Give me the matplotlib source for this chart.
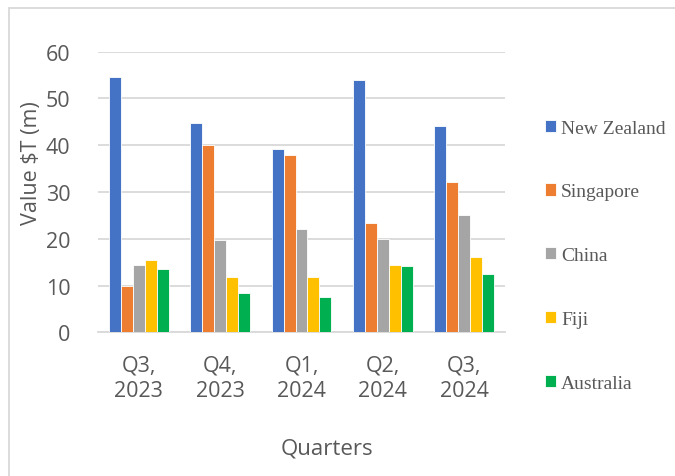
import numpy as np
import matplotlib
matplotlib.use('Agg')
import matplotlib.pyplot as plt
from matplotlib.patches import Rectangle

# data
quarters = ['Q3,\n2023', 'Q4,\n2023', 'Q1,\n2024', 'Q2,\n2024', 'Q3,\n2024']
countries = ['New Zealand', 'Singapore', 'China', 'Fiji', 'Australia']
new_zealand = [54.5, 44.8, 39.1, 53.9, 44.2]
singapore = [10.0, 40.0, 37.9, 23.4, 32.1]
china = [14.4, 19.7, 22.1, 19.9, 25.1]
fiji = [15.5, 11.8, 11.8, 14.3, 16.0]
australia = [13.5, 8.3, 7.5, 14.2, 12.4]

colors = ['#4472C4', '#ED7D31', '#A5A5A5', '#FFC000', '#00B050']
series = [new_zealand, singapore, china, fiji, australia]

W, H = 675, 477
fig = plt.figure(figsize=(W / 100, H / 100), dpi=100)
ax = fig.add_axes([98 / W, 1 - 333.3 / H, (505 - 98) / W, (333.3 - 52.7) / H])

x = np.arange(len(quarters))
slot = 0.147
for i, (vals, c) in enumerate(zip(series, colors)):
    ax.bar(x + (i - 2) * slot, vals, width=slot, color=c, edgecolor='white',
           linewidth=0.6, label=countries[i], zorder=3)

ax.set_xlim(-0.5, 4.5)
ax.set_ylim(0, 60)
ax.set_yticks(range(0, 61, 10))
ax.grid(axis='y', color='#d9d9d9', linewidth=1.3, zorder=0)
for s in ['top', 'right', 'left']:
    ax.spines[s].set_visible(False)
ax.spines['bottom'].set_color('#d9d9d9')
ax.spines['bottom'].set_linewidth(1.3)
ax.tick_params(length=0)
ax.tick_params(axis='y', pad=20)
ax.tick_params(axis='x', pad=16)

txt = '#595959'
fs = 15.5
ax.set_xticks(x)
ax.set_xticklabels(quarters, fontsize=fs, color=txt, family='Open Sans', linespacing=1.3)
for lab in ax.get_yticklabels():
    lab.set_fontsize(fs)
    lab.set_color(txt)
    lab.set_family('Open Sans')

fig.text(31 / W, 1 - 163 / H, 'Value $T (m)', rotation=90, fontsize=15.5, color=txt,
         family='Open Sans', ha='center', va='center')
fig.text(327 / W, 1 - 449 / H, 'Quarters', fontsize=16, color=txt,
         family='Open Sans', ha='center', va='center')

leg = fig.legend(loc='upper left', bbox_to_anchor=(535 / W, 1 - 111 / H), frameon=False,
                 prop={'family': 'Liberation Serif', 'size': 14}, labelspacing=2.4,
                 handlelength=0.6, handleheight=0.6, handletextpad=0.25, borderpad=0)
for t in leg.get_texts():
    t.set_color(txt)

fig.patches.append(Rectangle((9 / W, -0.1), 1.2, 1 - 9 / H + 0.1, transform=fig.transFigure,
                             fill=False, edgecolor='#d9d9d9', linewidth=1.3))

fig.savefig('out.png', dpi=100)
